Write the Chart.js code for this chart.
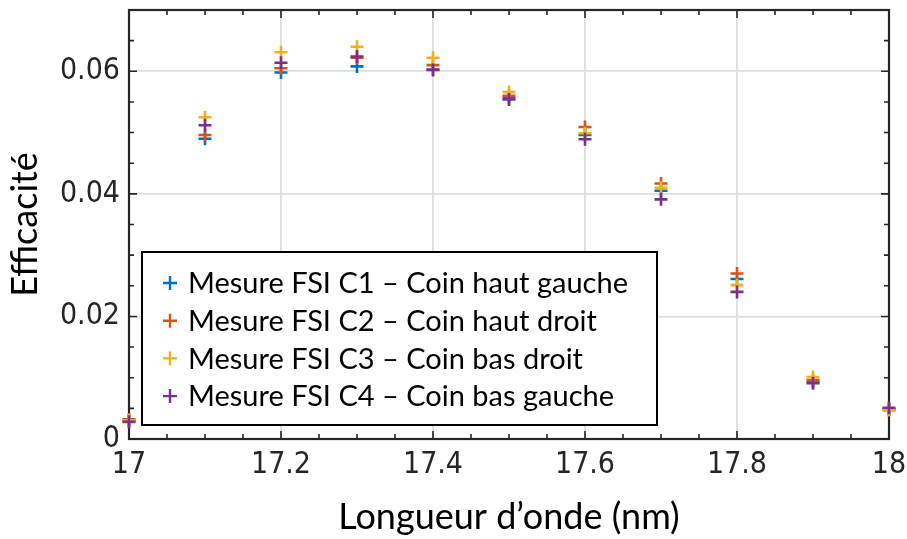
<!DOCTYPE html>
<html><head><meta charset="utf-8">
<script src="https://cdn.jsdelivr.net/npm/chart.js@4/dist/chart.umd.min.js"></script>
<style>html,body{margin:0;padding:0;background:#fff;}</style>
</head><body>
<canvas id="c" width="907" height="539"></canvas>
<script>
// ---- data ----
const wavelengths = [17.0, 17.1, 17.2, 17.3, 17.4, 17.5, 17.6, 17.7, 17.8, 17.9, 18.0];
const c1 = [0.0029, 0.0490, 0.0598, 0.0608, 0.0603, 0.0556, 0.0496, 0.0405, 0.0261, 0.0093, 0.0049];
const c2 = [0.0032, 0.0496, 0.0605, 0.0622, 0.0610, 0.0560, 0.0509, 0.0417, 0.0270, 0.0096, 0.0047];
const c3 = [0.0030, 0.0525, 0.0631, 0.0640, 0.0622, 0.0566, 0.0499, 0.0410, 0.0251, 0.0101, 0.0048];
const c4 = [0.0028, 0.0512, 0.0614, 0.0624, 0.0602, 0.0554, 0.0489, 0.0391, 0.0240, 0.0091, 0.0051];
const seriesLabels = [
  'Mesure FSI C1 \u2013 Coin haut gauche',
  'Mesure FSI C2 \u2013 Coin haut droit',
  'Mesure FSI C3 \u2013 Coin bas droit',
  'Mesure FSI C4 \u2013 Coin bas gauche'
];
const seriesColors = ['#0072BD', '#D95319', '#EDB120', '#7E2F8E'];
const xTickValues = [17, 17.2, 17.4, 17.6, 17.8, 18];
const xTickLabels = ['17', '17.2', '17.4', '17.6', '17.8', '18'];
const yTickValues = [0, 0.02, 0.04, 0.06];
const yTickLabels = ['0', '0.02', '0.04', '0.06'];
const xMinorStep = 0.05;
const yMinorStep = 0.005;
const xTitle = 'Longueur d\u2019onde (nm)';
const yTitle = 'Efficacit\u00e9';

const seriesValues = [c1, c2, c3, c4];
const AXIS = '#262626';
const tickFont = {family: "'Liberation Sans Narrow', 'DejaVu Sans Condensed', 'Liberation Sans', Arial", size: 30};
const titleFont = {family: "Lato, 'Open Sans', sans-serif", size: 36};

const datasets = seriesValues.map((vals, k) => ({
  label: seriesLabels[k],
  data: wavelengths.map((x, i) => ({x: x, y: vals[i]})),
  showLine: false,
  pointStyle: 'cross',
  pointRadius: 6.5,
  pointHoverRadius: 6.5,
  pointBorderWidth: 2.6,
  borderColor: seriesColors[k],
  backgroundColor: seriesColors[k],
  order: 4 - k,
  clip: false
}));

const frameTicks = {
  id: 'frameTicks',
  beforeDatasetsDraw(chart) {
    const ctx = chart.ctx, a = chart.chartArea;
    const xs = chart.scales.x, ys = chart.scales.y;
    ctx.save();
    ctx.strokeStyle = AXIS;
    ctx.lineWidth = 1.6;
    const isMajor = (v, arr) => arr.some(t => Math.abs(t - v) < 1e-9);
    for (let v = xs.min; v <= xs.max + 1e-9; v += xMinorStep) {
      const vv = Math.round(v * 1000) / 1000;
      const px = xs.getPixelForValue(vv);
      const len = isMajor(vv, xTickValues) ? 8 : 5;
      ctx.beginPath();
      ctx.moveTo(px, a.bottom); ctx.lineTo(px, a.bottom - len);
      ctx.moveTo(px, a.top); ctx.lineTo(px, a.top + len);
      ctx.stroke();
    }
    for (let v = ys.min; v <= ys.max + 1e-9; v += yMinorStep) {
      const vv = Math.round(v * 10000) / 10000;
      const py = ys.getPixelForValue(vv);
      const len = isMajor(vv, yTickValues) ? 8 : 5;
      ctx.beginPath();
      ctx.moveTo(a.left, py); ctx.lineTo(a.left + len, py);
      ctx.moveTo(a.right, py); ctx.lineTo(a.right - len, py);
      ctx.stroke();
    }
    ctx.lineWidth = 2.2;
    ctx.strokeRect(a.left, a.top, a.right - a.left, a.bottom - a.top);
    ctx.restore();
  }
};

const boxLegend = {
  id: 'boxLegend',
  afterDraw(chart) {
    const ctx = chart.ctx;
    const bx = 142, by = 252, bw = 515, bh = 173;
    ctx.save();
    ctx.fillStyle = '#ffffff';
    ctx.fillRect(bx, by, bw, bh);
    ctx.strokeStyle = '#000000';
    ctx.lineWidth = 2;
    ctx.strokeRect(bx, by, bw, bh);
    ctx.font = "29px Lato, 'Open Sans', sans-serif";
    ctx.textBaseline = 'middle';
    ctx.textAlign = 'left';
    chart.data.datasets.forEach((ds, i) => {
      const cy = by + 31 + i * 37.7;
      const cx = bx + 28;
      ctx.strokeStyle = ds.borderColor;
      ctx.lineWidth = 2.4;
      ctx.beginPath();
      ctx.moveTo(cx - 7, cy); ctx.lineTo(cx + 7, cy);
      ctx.moveTo(cx, cy - 7); ctx.lineTo(cx, cy + 7);
      ctx.stroke();
      ctx.fillStyle = '#000000';
      ctx.fillText(ds.label, bx + 46, cy + 1);
    });
    ctx.restore();
  }
};

new Chart(document.getElementById('c'), {
  type: 'scatter',
  data: {datasets: datasets},
  options: {
    responsive: false,
    devicePixelRatio: 1,
    animation: false,
    events: [],
    layout: {padding: {top: 10, right: 18, left: 0, bottom: 0}},
    plugins: {legend: {display: false}, tooltip: {enabled: false}},
    scales: {
      x: {
        type: 'linear', min: 17, max: 18,
        afterBuildTicks: s => { s.ticks = xTickValues.map(v => ({value: v})); },
        afterFit: s => { s.height = 100; s.paddingLeft = 0; s.paddingRight = 0; },
        ticks: {
          callback: (v, i) => xTickLabels[i],
          font: tickFont, color: AXIS, padding: 8, maxRotation: 0, autoSkip: false
        },
        grid: {color: '#dedede', lineWidth: 1.8, drawTicks: false},
        border: {display: false},
        title: {display: true, text: xTitle, font: titleFont, color: '#000', padding: {top: 0, bottom: 0}}
      },
      y: {
        type: 'linear', min: 0, max: 0.07,
        afterBuildTicks: s => { s.ticks = yTickValues.map(v => ({value: v})); },
        afterFit: s => { s.width = 129; s.paddingTop = 0; s.paddingBottom = 0; },
        ticks: {
          callback: (v, i) => yTickLabels[i],
          font: tickFont, color: AXIS, padding: 9, autoSkip: false
        },
        grid: {color: '#dedede', lineWidth: 1.8, drawTicks: false},
        border: {display: false},
        title: {display: true, text: yTitle, font: titleFont, color: '#000', padding: {top: 4, bottom: 4}}
      }
    }
  },
  plugins: [frameTicks, boxLegend]
});
</script>
</body></html>
